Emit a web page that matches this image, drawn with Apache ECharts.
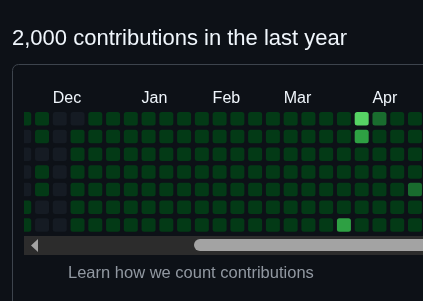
<!DOCTYPE html>
<html>
<head>
<meta charset="utf-8">
<script src="https://cdn.jsdelivr.net/npm/echarts@6/dist/echarts.min.js"></script>
<style>
  html, body { margin: 0; padding: 0; background: #0d1117; }
  #chart { width: 423px; height: 301px; }
</style>
</head>
<body>
<div id="chart"></div>
<script>
// data
const titleText = '2,000 contributions in the last year'
const footerText = 'Learn how we count contributions'
const monthLabels = ['Dec', 'Jan', 'Feb', 'Mar', 'Apr']
const monthStartWeeks = [2, 7, 11, 15, 20]
// contribution level per week (column), Sun..Sat
const weekLevels = [
  [1, 0, 0, 0, 0, 1, 1],
  [1, 1, 0, 1, 1, 0, 0],
  [0, 0, 0, 0, 0, 0, 0],
  [0, 1, 1, 1, 1, 1, 1],
  [1, 1, 1, 1, 1, 1, 1],
  [1, 1, 1, 1, 1, 1, 1],
  [1, 1, 1, 1, 1, 1, 1],
  [1, 1, 1, 1, 1, 1, 1],
  [1, 1, 1, 1, 1, 1, 1],
  [1, 1, 1, 1, 1, 1, 1],
  [1, 1, 1, 1, 1, 1, 1],
  [1, 1, 1, 1, 1, 1, 1],
  [1, 1, 1, 1, 1, 1, 1],
  [1, 1, 1, 1, 1, 1, 1],
  [1, 1, 1, 1, 1, 1, 1],
  [1, 1, 1, 1, 1, 1, 1],
  [1, 1, 1, 1, 1, 1, 1],
  [1, 1, 1, 1, 1, 1, 1],
  [1, 1, 1, 1, 1, 1, 3],
  [4, 3, 1, 1, 1, 1, 1],
  [2, 1, 1, 1, 1, 1, 1],
  [1, 1, 1, 1, 1, 1, 1],
  [1, 1, 1, 1, 2, 1, 1]
]

const levelColors = ['#151b23', '#033a16', '#196c2e', '#2ea043', '#56d364']
const FONT = '"Liberation Sans", Arial, sans-serif'

const cells = []
weekLevels.forEach((days, w) => {
  days.forEach((lvl, d) => cells.push([w, d, lvl]))
})

const chart = echarts.init(document.getElementById('chart'))

chart.setOption({
  backgroundColor: '#0d1117',
  animation: false,
  title: [
    {
      text: titleText,
      left: 12,
      top: 28,
      padding: 0,
      textStyle: { color: '#f0f6fc', fontSize: 22, fontWeight: 'normal', fontFamily: FONT }
    },
    {
      text: footerText,
      left: 68,
      top: 265,
      padding: 0,
      textStyle: { color: '#9198a1', fontSize: 16.5, fontWeight: 'normal', fontFamily: FONT }
    }
  ],
  grid: {
    left: 24,
    top: 112,
    width: 399,
    height: 124
  },
  xAxis: {
    type: 'value',
    position: 'top',
    min: 0.38,
    max: 0.38 + 399 / 17.76,
    splitLine: { show: false },
    axisLine: { show: false },
    axisTick: { show: false },
    axisLabel: {
      customValues: monthStartWeeks,
      formatter: (v) => monthLabels[monthStartWeeks.indexOf(Math.round(v))] || '',
      align: 'left',
      margin: 5,
      color: '#f0f6fc',
      fontSize: 16,
      fontFamily: FONT
    }
  },
  yAxis: {
    type: 'value',
    inverse: true,
    min: 0,
    max: 7,
    show: false
  },
  series: [
    {
      type: 'custom',
      clip: true,
      data: cells,
      renderItem: (params, api) => {
        const p = api.coord([api.value(0), api.value(1)])
        return {
          type: 'rect',
          shape: { x: p[0], y: p[1], width: 14, height: 13.5, r: 2.5 },
          style: { fill: levelColors[api.value(2)] }
        }
      }
    }
  ],
  graphic: [
    {
      type: 'rect',
      silent: true,
      shape: { x: 12.5, y: 64.5, width: 480, height: 300, r: 6 },
      style: { fill: 'none', stroke: '#3d444d', lineWidth: 1 }
    },
    {
      type: 'rect',
      silent: true,
      shape: { x: 24, y: 236, width: 399, height: 19 },
      style: { fill: '#2c2c2c' }
    },
    {
      type: 'rect',
      silent: true,
      shape: { x: 194, y: 239, width: 240, height: 12, r: 6 },
      style: { fill: '#a3a3a3' }
    },
    {
      type: 'polygon',
      silent: true,
      shape: { points: [[31, 245.5], [38, 239], [38, 252]] },
      style: { fill: '#a3a3a3' }
    }
  ]
})
</script>
</body>
</html>
